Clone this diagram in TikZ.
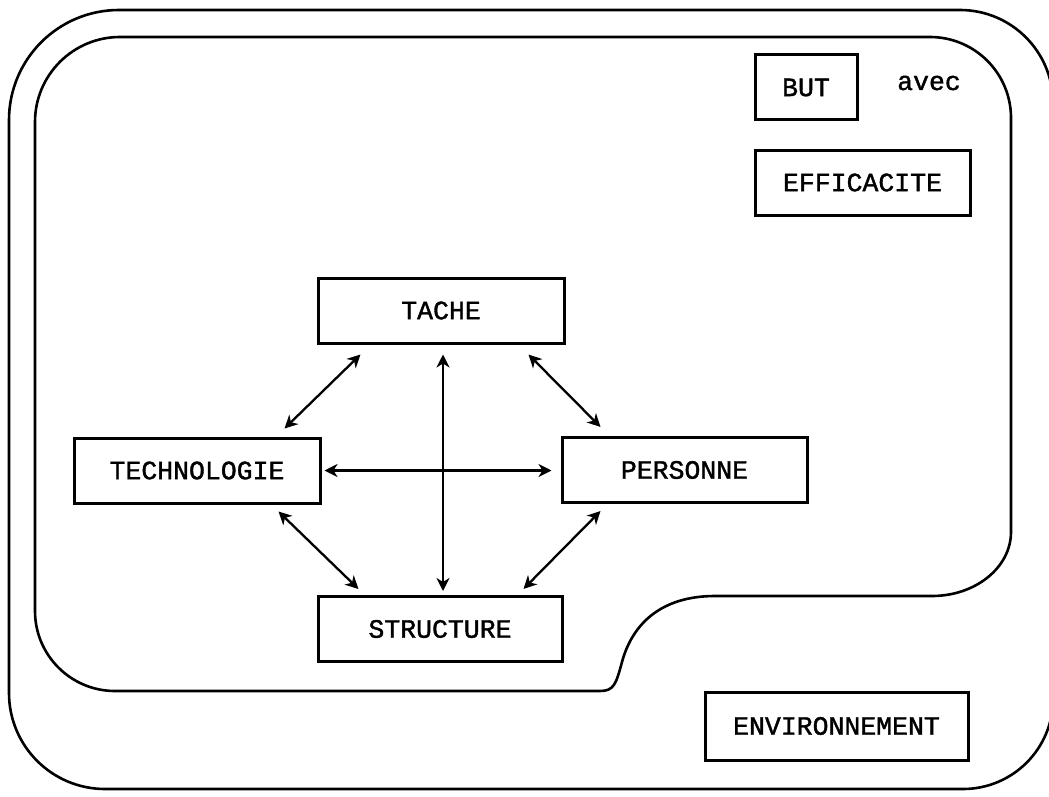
\documentclass[tikz,border=0pt]{standalone}
\usepackage{fontspec}
\newfontfamily\typewriter[FakeBold=1.4]{Liberation Mono}
\usetikzlibrary{arrows.meta}

\begin{document}
\begin{tikzpicture}[
            x=1pt,
            y=1pt,
            box/.style={draw, line width=3pt, minimum height=65pt, inner sep=0pt,
                font=\typewriter\fontsize{26.5}{30}\selectfont},
            label/.style={inner sep=0pt, font=\typewriter\fontsize{26.5}{30}\selectfont},
            edge/.style={line width=2.6pt, line join=round},
            biarrow/.style={{Stealth[length=13pt,width=13pt,inset=4pt]}-{Stealth[length=13pt,width=13pt,inset=4pt]}, line width=2.3pt}
        ]

        \useasboundingbox (0,0) rectangle (1049,-797);

        % outer border (environment)
        \draw[edge] (9,-120) arc (180:90:110) -- (960,-10) arc (90:0:93)
            -- (1053,-699) arc (0:-90:90) -- (105,-789) arc (270:180:96) -- cycle;

        % inner border (organisation)
        \draw[edge] (35,-122) arc (180:90:85) -- (930,-37) arc (90:0:81)
            -- (1011,-532) arc [start angle=0, end angle=-90, x radius=79, y radius=64]
            -- (715,-596) .. controls (660,-596) and (632,-625) .. (622,-662)
            .. controls (616,-684) and (614,-691) .. (600,-691)
            -- (115,-691) arc (270:180:80) -- cycle;

        % goal
        \node[box, minimum width=102pt] (but) at (806,-87.5) {BUT};
        \node[label] (avec) at (929,-83) {avec};
        \node[box, minimum width=215pt] (efficacite) at (862.5,-182.5) {EFFICACITE};

        % the four poles
        \node[box, minimum width=246pt] (tache) at (441,-310.5) {TACHE};
        \node[box, minimum width=246pt] (techno) at (197,-470.5) {TECHNOLOGIE};
        \node[box, minimum width=245pt] (personne) at (684.5,-470) {PERSONNE};
        \node[box, minimum width=244pt] (structure) at (440,-629) {STRUCTURE};

        \node[box, minimum width=263pt, minimum height=68pt] (environ) at (836.5,-726) {ENVIRONNEMENT};

        % links
        \draw[biarrow] ([xshift=44pt, yshift=-10pt]tache.south west) -- ([xshift=-37pt, yshift=8pt]techno.north east);
        \draw[biarrow] ([xshift=-37pt, yshift=-10pt]tache.south east) -- ([xshift=40pt, yshift=9pt]personne.north west);
        \draw[biarrow] ([xshift=2pt, yshift=-10pt]tache.south) -- ([xshift=2pt, yshift=4pt]tache.south |- structure.north);
        \draw[biarrow, shorten <=3pt, shorten >=9pt] (techno.east) -- (techno.east -| personne.west);
        \draw[biarrow] ([xshift=-43pt, yshift=-7pt]techno.south east) -- ([xshift=42pt, yshift=6pt]structure.north west);
        \draw[biarrow] ([xshift=40pt, yshift=-7pt]personne.south west) -- ([xshift=-40pt, yshift=6pt]structure.north east);

        \end{tikzpicture}
\end{document}
